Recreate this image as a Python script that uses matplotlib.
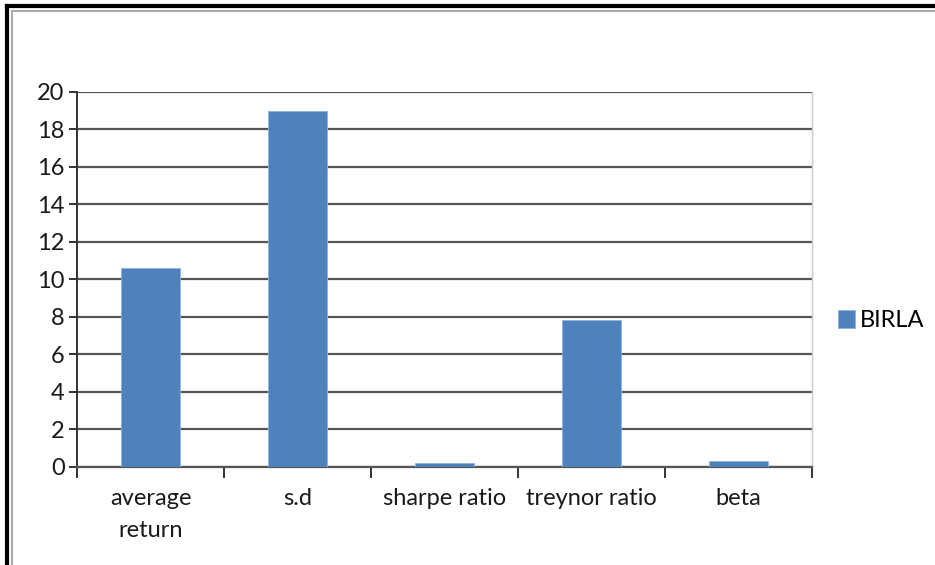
import matplotlib.pyplot as plt
from matplotlib.lines import Line2D

plt.rcParams['font.family'] = ['Lato', 'DejaVu Sans']

# BIRLA fund measures
categories = ['average\nreturn', 's.d', 'sharpe ratio', 'treynor ratio', 'beta']
birla = [10.6, 19.0, 0.2, 7.85, 0.3]
y_ticks = [0, 2, 4, 6, 8, 10, 12, 14, 16, 18, 20]

fig = plt.figure(figsize=(9.35, 5.65), dpi=100)
ax = fig.add_axes([0.0824, 0.1735, 0.786, 0.6637])

x = range(len(categories))
ax.bar(x, birla, width=0.4, color='#4F81BD', edgecolor='#8EB4E3', linewidth=0.6,
       label='BIRLA', zorder=3)

ax.set_ylim(0, 20)
ax.set_xlim(-0.5, len(categories) - 0.5)
ax.set_yticks(y_ticks)
ax.set_yticklabels([str(v) for v in y_ticks], fontsize=17, color='#1a1a1a')
ax.yaxis.grid(True, color='#555555', linewidth=1.6, zorder=0)

# tick marks sit between the categories, labels at the centres
ax.set_xticks([i - 0.5 for i in range(len(categories) + 1)])
ax.set_xticklabels([])
ax.set_xticks(list(x), minor=True)
ax.set_xticklabels(categories, minor=True, fontsize=17, color='#1a1a1a', linespacing=1.65)
ax.tick_params(axis='x', which='major', length=8, width=1.4, color='#333333')
ax.tick_params(axis='x', which='minor', length=0, pad=15)
ax.tick_params(axis='y', length=6, width=1.4, color='#333333', pad=3)

ax.spines['top'].set_visible(False)
ax.spines['right'].set_color('#c8c8c8')
ax.spines['right'].set_linewidth(1.0)
ax.spines['left'].set_color('#333333')
ax.spines['left'].set_linewidth(1.4)
ax.spines['bottom'].set_color('#555555')
ax.spines['bottom'].set_linewidth(1.6)

leg = ax.legend(loc='center left', bbox_to_anchor=(1.035, 0.39), frameon=False,
                fontsize=17, handlelength=0.75, handleheight=0.75, handletextpad=0.2,
                borderpad=0, borderaxespad=0)

# chart border: black outer line with a grey inner line
W, H = 935, 565
fig.add_artist(Line2D([7 / W, 7 / W], [0, 1 - 6 / H], color='black', linewidth=3,
                      transform=fig.transFigure))
fig.add_artist(Line2D([7 / W, 1], [1 - 6 / H, 1 - 6 / H], color='black', linewidth=3,
                      transform=fig.transFigure))
fig.add_artist(Line2D([11.5 / W, 11.5 / W], [0, 1 - 10.5 / H], color='#aaaaaa', linewidth=1.5,
                      transform=fig.transFigure))
fig.add_artist(Line2D([11.5 / W, 1], [1 - 10.5 / H, 1 - 10.5 / H], color='#aaaaaa', linewidth=1.5,
                      transform=fig.transFigure))

fig.savefig('out.png', dpi=100)
